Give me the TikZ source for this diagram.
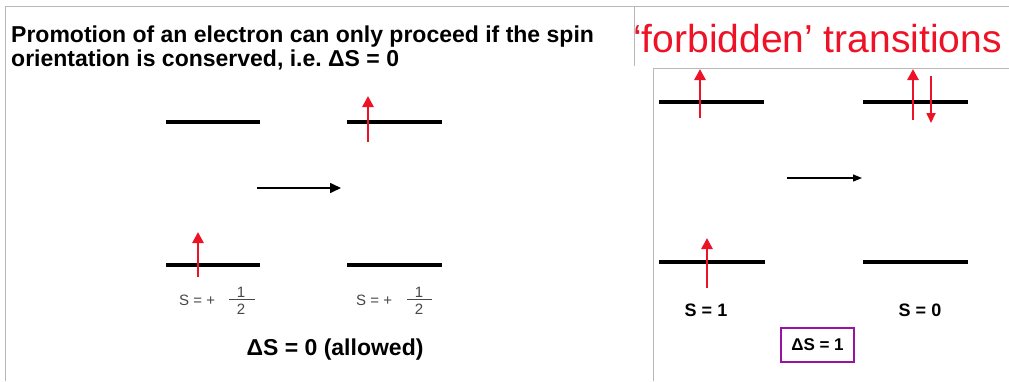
\documentclass[tikz,border=0pt]{standalone}
\usepackage{fontspec}
\setmainfont{Liberation Sans}
\usetikzlibrary{arrows.meta}
\definecolor{framegray}{gray}{0.72}
\definecolor{spinred}{RGB}{238,18,38}
\definecolor{boxpurple}{RGB}{150,20,160}
\definecolor{labelgray}{gray}{0.28}
\begin{document}
\begin{tikzpicture}[x=1pt,y=-1pt,
  level/.style={line width=4pt},
  spinup/.style={draw=spinred, line width=2.6pt, -{Triangle[length=11pt,width=11pt]}},
  spinthin/.style={draw=spinred, line width=1.7pt, -{Triangle[length=10pt,width=9pt]}},
  trans/.style={line width=1.6pt, -{Triangle[length=11pt,width=10pt]}},
  transthin/.style={line width=1.2pt, -{Triangle[length=9pt,width=7pt]}},
  framel/.style={draw=framegray, line width=1pt},
  lbl/.style={text=labelgray, font=\fontsize{15}{17}\selectfont, inner sep=0pt},
  fracbar/.style={draw=labelgray, line width=0.9pt},
  blbl/.style={font=\bfseries\fontsize{18}{20}\selectfont, inner sep=0pt}]
\useasboundingbox (0,0) rectangle (1009,381);
% frame
\draw[framel] (5,381) -- (5,6) -- (1009,6);
\draw[framel] (634,6) -- (634,66);
\draw[framel] (653,381) -- (653,68) -- (1009,68);
% titles
\node[anchor=north west, align=left, inner sep=0pt, font=\bfseries\fontsize{23}{24}\selectfont] (title) at (11,26)
  {Promotion of an electron can only proceed if the spin\\orientation is conserved, i.e.~ΔS = 0};
\node[anchor=base west, inner sep=0pt, text=spinred, font=\fontsize{39}{42}\selectfont] (forb) at (633,52) {‘forbidden’ transitions};
% left panel levels
\coordinate (a1) at (166,122); \coordinate (a2) at (260,122);
\coordinate (b1) at (347,122); \coordinate (b2) at (442,122);
\coordinate (c1) at (166,265); \coordinate (c2) at (260,265);
\coordinate (d1) at (347,265); \coordinate (d2) at (442,265);
\draw[level] (a1) -- (a2);
\draw[level] (b1) -- (b2);
\draw[level] (c1) -- (c2);
\draw[level] (d1) -- (d2);
\coordinate (t1) at (257,188); \coordinate (t2) at (341,188);
\draw[trans] (t1) -- (t2);
\coordinate (s1a) at (368,142); \coordinate (s1b) at (368,96);
\draw[spinup] (s1a) -- (s1b);
\coordinate (s2a) at (198,277); \coordinate (s2b) at (198,232);
\draw[spinup] (s2a) -- (s2b);
% S = +1/2 labels
\node[lbl, anchor=west] (l1) at (179,300) {S = +};
\node[lbl] (l1n) at (241,292) {1};
\draw[fracbar] (229,299) -- (255,299);
\node[lbl] (l1d) at (241,309) {2};
\node[lbl, anchor=west] (l2) at (356,300) {S = +};
\node[lbl] (l2n) at (419,292) {1};
\draw[fracbar] (407,299) -- (432,299);
\node[lbl] (l2d) at (419,309) {2};
\node[font=\bfseries\fontsize{23}{25}\selectfont, inner sep=0pt] (allowed) at (335,350) {ΔS = 0 (allowed)};
% right panel levels
\coordinate (e1) at (659,102); \coordinate (e2) at (764,102);
\coordinate (f1) at (863,102); \coordinate (f2) at (968,102);
\coordinate (g1) at (659,262); \coordinate (g2) at (765,262);
\coordinate (h1) at (863,262); \coordinate (h2) at (968,262);
\draw[level] (e1) -- (e2);
\draw[level] (f1) -- (f2);
\draw[level] (g1) -- (g2);
\draw[level] (h1) -- (h2);
\coordinate (u1a) at (700,118); \coordinate (u1b) at (700,69);
\draw[spinup] (u1a) -- (u1b);
\coordinate (u2a) at (913,120); \coordinate (u2b) at (913,69);
\draw[spinup] (u2a) -- (u2b);
\coordinate (d3a) at (931,76); \coordinate (d3b) at (931,123);
\draw[spinthin] (d3a) -- (d3b);
\coordinate (u3a) at (707,288); \coordinate (u3b) at (707,238);
\draw[spinup] (u3a) -- (u3b);
\coordinate (r1) at (787,178); \coordinate (r2) at (862,178);
\draw[transthin] (r1) -- (r2);
\node[blbl] (s1) at (706,310) {S = 1};
\node[blbl] (s0) at (920,310) {S = 0};
\node[draw=boxpurple, line width=1.5pt, minimum width=73pt, minimum height=34pt, inner sep=0pt,
      font=\bfseries\fontsize{17}{19}\selectfont] (ds) at (817.5,345) {ΔS = 1};
\end{tikzpicture}
\end{document}
